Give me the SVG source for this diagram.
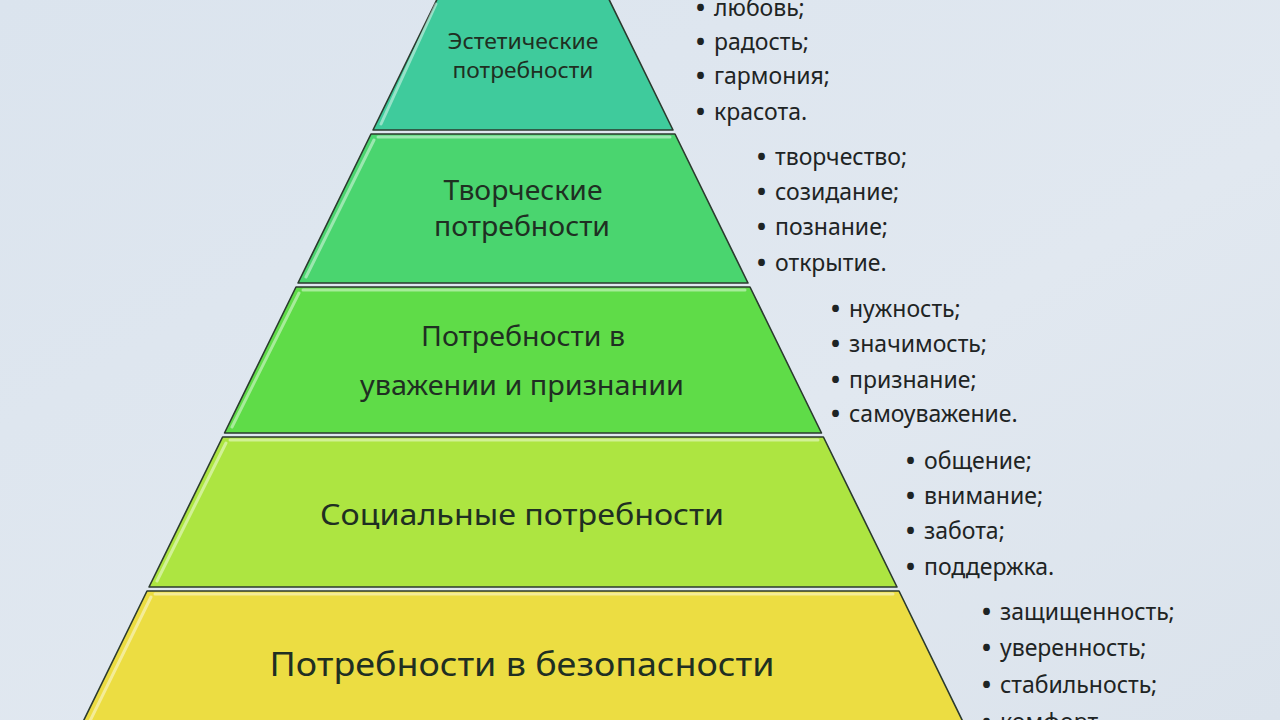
<svg xmlns="http://www.w3.org/2000/svg" width="1280" height="720" viewBox="0 0 1280 720">
<defs>
<linearGradient id="bg" x1="0" y1="0" x2="1" y2="1">
<stop offset="0" stop-color="#dbe4ee"/>
<stop offset="0.6" stop-color="#e1e8f0"/>
<stop offset="1" stop-color="#dbe3ec"/>
</linearGradient>
</defs>
<style>
.layer{stroke:#2b3a2e;stroke-width:1.6;stroke-linejoin:round}
.hl{fill:none;stroke:#ffffff;stroke-opacity:0.45;stroke-width:3;stroke-linecap:round}
.lbl{font-family:"Noto Sans","Open Sans","DejaVu Sans",sans-serif;fill:#1f2f22;text-anchor:middle}
.li{font-family:"Noto Sans","Open Sans","DejaVu Sans",sans-serif;font-size:23px;fill:#1e2424}
.b{font-size:24px;font-weight:bold}
</style>
<rect width="1280" height="720" fill="url(#bg)"/>

<g id="layer-aesthetic">
<polygon class="layer" points="441.6,-10 604.4,-10 673,130 373,130" fill="#3fcb9c"/>
<line class="hl" x1="436" y1="4" x2="381" y2="124"/>
<text class="lbl" font-size="21" x="523" y="49" textLength="151" lengthAdjust="spacingAndGlyphs">Эстетические</text>
<text class="lbl" font-size="21" x="523" y="78" textLength="141" lengthAdjust="spacingAndGlyphs">потребности</text>
</g>

<g id="layer-creative">
<polygon class="layer" points="371,134 675,134 748,283 298,283" fill="#4ad56f"/>
<line class="hl" x1="374" y1="140" x2="306" y2="277"/>
<line class="hl" x1="378" y1="137" x2="670" y2="137" stroke-opacity="0.35" stroke-width="2"/>
<text class="lbl" font-size="27" x="523" y="200" textLength="159" lengthAdjust="spacingAndGlyphs">Творческие</text>
<text class="lbl" font-size="27" x="522" y="236" textLength="176" lengthAdjust="spacingAndGlyphs">потребности</text>
</g>

<g id="layer-esteem">
<polygon class="layer" points="296,287 750,287 821.5,433 224.5,433" fill="#5fdc48"/>
<line class="hl" x1="299" y1="293" x2="232" y2="427"/>
<line class="hl" x1="303" y1="290" x2="745" y2="290" stroke-opacity="0.35" stroke-width="2"/>
<text class="lbl" font-size="27" x="523" y="346" textLength="204" lengthAdjust="spacingAndGlyphs">Потребности в</text>
<text class="lbl" font-size="27" x="522" y="395" textLength="324" lengthAdjust="spacingAndGlyphs">уважении и признании</text>
</g>

<g id="layer-social">
<polygon class="layer" points="222.6,437 823.4,437 897,587 149,587" fill="#ade541"/>
<line class="hl" x1="226" y1="443" x2="157" y2="581"/>
<line class="hl" x1="230" y1="440" x2="818" y2="440" stroke-opacity="0.35" stroke-width="2"/>
<text class="lbl" font-size="29" x="522" y="525" textLength="404" lengthAdjust="spacingAndGlyphs">Социальные потребности</text>
</g>

<g id="layer-safety">
<polygon class="layer" points="147,591 899,591 967,730 79,730" fill="#ecdd42"/>
<line class="hl" x1="151" y1="597" x2="88" y2="725"/>
<line class="hl" x1="155" y1="594" x2="893" y2="594" stroke-opacity="0.35" stroke-width="2"/>
<text class="lbl" font-size="33" x="522" y="676" textLength="505" lengthAdjust="spacingAndGlyphs">Потребности в безопасности</text>
</g>

<g id="list-aesthetic">
<text class="li" y="16"><tspan class="b" x="696">•</tspan><tspan x="714">любовь;</tspan></text>
<text class="li" y="50"><tspan class="b" x="696">•</tspan><tspan x="714">радость;</tspan></text>
<text class="li" y="84"><tspan class="b" x="696">•</tspan><tspan x="714">гармония;</tspan></text>
<text class="li" y="120"><tspan class="b" x="696">•</tspan><tspan x="714">красота.</tspan></text>
</g>

<g id="list-creative">
<text class="li" y="165"><tspan class="b" x="757">•</tspan><tspan x="775">творчество;</tspan></text>
<text class="li" y="200"><tspan class="b" x="757">•</tspan><tspan x="775">созидание;</tspan></text>
<text class="li" y="235"><tspan class="b" x="757">•</tspan><tspan x="775">познание;</tspan></text>
<text class="li" y="271"><tspan class="b" x="757">•</tspan><tspan x="775">открытие.</tspan></text>
</g>

<g id="list-esteem">
<text class="li" y="317"><tspan class="b" x="831">•</tspan><tspan x="849">нужность;</tspan></text>
<text class="li" y="352"><tspan class="b" x="831">•</tspan><tspan x="849">значимость;</tspan></text>
<text class="li" y="388"><tspan class="b" x="831">•</tspan><tspan x="849">признание;</tspan></text>
<text class="li" y="422"><tspan class="b" x="831">•</tspan><tspan x="849">самоуважение.</tspan></text>
</g>

<g id="list-social">
<text class="li" y="469"><tspan class="b" x="906">•</tspan><tspan x="924">общение;</tspan></text>
<text class="li" y="504"><tspan class="b" x="906">•</tspan><tspan x="924">внимание;</tspan></text>
<text class="li" y="539"><tspan class="b" x="906">•</tspan><tspan x="924">забота;</tspan></text>
<text class="li" y="575"><tspan class="b" x="906">•</tspan><tspan x="924">поддержка.</tspan></text>
</g>

<g id="list-safety">
<text class="li" y="620"><tspan class="b" x="982">•</tspan><tspan x="1000">защищенность;</tspan></text>
<text class="li" y="656"><tspan class="b" x="982">•</tspan><tspan x="1000">уверенность;</tspan></text>
<text class="li" y="693"><tspan class="b" x="982">•</tspan><tspan x="1000">стабильность;</tspan></text>
<text class="li" y="730"><tspan class="b" x="982">•</tspan><tspan x="1000">комфорт.</tspan></text>
</g>
</svg>
